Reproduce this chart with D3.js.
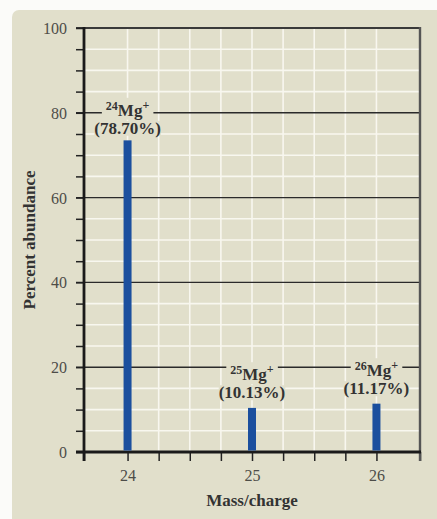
<!DOCTYPE html>
<html>
<head>
<meta charset="utf-8">
<script src="https://cdn.jsdelivr.net/npm/d3@7/dist/d3.min.js"></script>
<style>
  html, body { margin: 0; padding: 0; background: #fbfbf9; }
  svg { display: block; }
  .serif { font-family: 'Liberation Serif', 'Times New Roman', serif; }
</style>
</head>
<body>
<svg id="chart" width="437" height="519"></svg>
<script>
// ---- data ----
const masses = [24, 25, 26];
const abundances = [73.5, 10.4, 11.4];          // bar heights
const isotopeNumbers = ["24", "25", "26"];
const percentLabels = ["(78.70%)", "(10.13%)", "(11.17%)"];
const yTicks = [0, 20, 40, 60, 80, 100];
const xTicks = [24, 25, 26];
const xTitle = "Mass/charge";
const yTitle = "Percent abundance";

// ---- layout ----
const W = 437, H = 519;
const pLeft = 84, pRight = 420, pTop = 28, pBottom = 452;
const panelColor = "#e1dfcb";
const barColor = "#1b4f9e";
const labelLine = [80, 20, 20];           // grid line each label sits on
const labelOffsets = [[3, 21], [13, 31], [9, 27]]; // baseline offsets below that line

const svg = d3.select("#chart");
svg.append("rect").attr("x", 12).attr("y", 10).attr("width", W).attr("height", H + 10)
  .attr("rx", 7).attr("fill", panelColor);

const x = d3.scaleLinear().domain([23.65, 26.35]).range([pLeft, pRight]);
const y = d3.scaleLinear().domain([0, 100]).range([pBottom, pTop]);

// white minor grid
const g = svg.append("g");
const minorY = d3.range(5, 100, 5).filter(v => v % 20 !== 0);
g.selectAll(".hy").data(minorY).join("line")
  .attr("x1", pLeft).attr("x2", pRight).attr("y1", d => y(d)).attr("y2", d => y(d))
  .attr("stroke", "#f8f7ef").attr("stroke-width", 1.6);
const minorX = d3.range(24, 26.01, 0.25);
g.selectAll(".vx").data(minorX).join("line")
  .attr("y1", pTop).attr("y2", pBottom).attr("x1", d => x(d)).attr("x2", d => x(d))
  .attr("stroke", "#f8f7ef").attr("stroke-width", 1.6);

// dark major lines
g.selectAll(".my").data([20, 40, 60, 80, 100]).join("line")
  .attr("x1", pLeft - 8).attr("x2", pRight).attr("y1", d => y(d)).attr("y2", d => y(d))
  .attr("stroke", d => d === 100 ? "#3a3a3a" : "#2a2a2a").attr("stroke-width", d => d === 100 ? 2 : 1.4);

// y axis (ticks every 5, labels every 20)
const yAxis = d3.axisLeft(y).tickValues(d3.range(0, 101, 5)).tickSize(8).tickPadding(9)
  .tickFormat(d => yTicks.includes(d) ? d : "");
const ya = svg.append("g").attr("transform", `translate(${pLeft},0)`).call(yAxis);
ya.attr("font-family", null).attr("font-size", null);
ya.select(".domain").remove();
ya.selectAll("line").attr("stroke", "#222").attr("stroke-width", 1.5);
ya.selectAll("text").attr("class", "serif").style("font-size", "16px")
  .attr("fill", "#4d4d48").attr("dy", "0.34em");

// x axis (ticks every quarter plus ends)
const xTickVals = [23.65].concat(minorX).concat([26.35]);
const xAxis = d3.axisBottom(x).tickValues(xTickVals).tickSize(9).tickPadding(9)
  .tickFormat(d => xTicks.includes(d) ? d : "");
const xa = svg.append("g").attr("transform", `translate(0,${pBottom})`).call(xAxis);
xa.attr("font-family", null).attr("font-size", null);
xa.select(".domain").remove();
xa.selectAll("line").attr("stroke", "#222").attr("stroke-width", 1.5);
xa.selectAll("text").attr("class", "serif").style("font-size", "16px")
  .attr("fill", "#4d4d48");

// frame
svg.append("line").attr("x1", pRight).attr("x2", pRight).attr("y1", pTop - 1).attr("y2", pBottom + 9)
  .attr("stroke", "#555").attr("stroke-width", 2.4);
svg.append("line").attr("x1", pLeft).attr("x2", pLeft).attr("y1", pTop - 1).attr("y2", pBottom + 9)
  .attr("stroke", "#1a1a1a").attr("stroke-width", 2.8);
svg.append("line").attr("x1", pLeft - 8).attr("x2", pRight + 1).attr("y1", pBottom).attr("y2", pBottom)
  .attr("stroke", "#1a1a1a").attr("stroke-width", 3);

// labels
const labG = svg.append("g").attr("class", "serif")
  .attr("font-weight", "bold").attr("fill", "#333").attr("text-anchor", "middle");
masses.forEach((m, i) => {
  const cx = x(m);
  const b1 = y(labelLine[i]) + labelOffsets[i][0];
  const b2 = y(labelLine[i]) + labelOffsets[i][1];
  const grp = labG.append("g");
  const bgs = grp.append("g");
  const t1 = grp.append("text").attr("x", cx).attr("y", b1).attr("font-size", 17);
  t1.append("tspan").attr("font-size", 12).attr("dy", -6).text(isotopeNumbers[i]);
  t1.append("tspan").attr("dy", 6).text("Mg");
  t1.append("tspan").attr("font-size", 12).attr("dy", -7).text("+");
  const t2 = grp.append("text").attr("x", cx).attr("y", b2).attr("font-size", 17)
    .text(percentLabels[i]);
  const bb1 = t1.node().getBBox();
  const bb2 = t2.node().getBBox();
  bgs.append("rect").attr("x", bb1.x - 4).attr("y", bb1.y).attr("width", bb1.width + 8)
    .attr("height", bb1.height).attr("fill", panelColor);
  bgs.append("rect").attr("x", bb2.x).attr("y", bb2.y + 2).attr("width", bb2.width)
    .attr("height", bb2.height - 4).attr("fill", panelColor);
});

// bars
svg.append("g").selectAll("rect").data(masses).join("rect")
  .attr("x", d => x(d) - 4).attr("width", 8)
  .attr("y", (d, i) => y(abundances[i])).attr("height", (d, i) => pBottom - 1.5 - y(abundances[i]))
  .attr("fill", barColor);

// titles
svg.append("text").attr("x", (pLeft + pRight) / 2).attr("y", 506).attr("text-anchor", "middle")
  .attr("class", "serif").attr("font-weight", "bold").attr("font-size", 17)
  .attr("fill", "#333").text(xTitle);
svg.append("text").attr("transform", `translate(35,${(pTop + pBottom) / 2}) rotate(-90)`)
  .attr("text-anchor", "middle")
  .attr("class", "serif").attr("font-weight", "bold").attr("font-size", 17)
  .attr("fill", "#333").text(yTitle);
</script>
</body>
</html>
